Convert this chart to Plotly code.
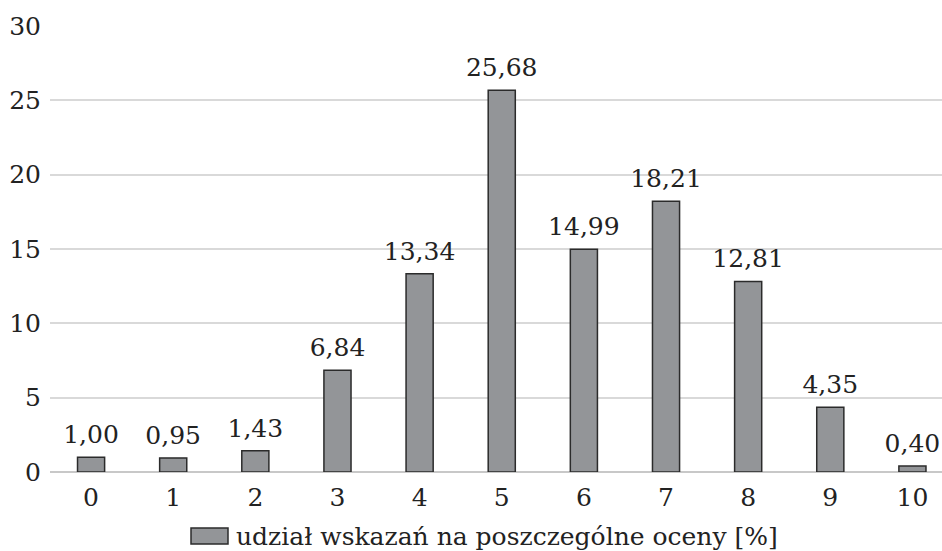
import plotly.graph_objects as go

categories = [0, 1, 2, 3, 4, 5, 6, 7, 8, 9, 10]
values = [1.00, 0.95, 1.43, 6.84, 13.34, 25.68, 14.99, 18.21, 12.81, 4.35, 0.40]
series_name = "udział wskazań na poszczególne oceny [%]"
y_ticks = [0, 5, 10, 15, 20, 25, 30]

labels = [f"{v:.2f}".replace(".", ",") for v in values]

FONT = "DejaVu Serif"
FS = 25
TXT = "#222222"

fig = go.Figure()
fig.add_trace(go.Bar(
    x=categories, y=values, width=0.33,
    marker=dict(color="#939598", line=dict(color="#2b2b2b", width=1.5)),
    name=series_name, showlegend=False, hoverinfo="skip",
))
fig.add_trace(go.Scatter(
    x=categories, y=values, mode="markers+text",
    marker=dict(size=11, color="rgba(0,0,0,0)"),
    text=labels, textposition="top center", cliponaxis=False,
    textfont=dict(family=FONT, size=FS, color=TXT),
    showlegend=False, hoverinfo="skip",
))

W, H = 942, 551
L, R, T, B = 50, 0, 26, 79
pw, ph = W - L - R, H - T - B

def px(x):
    return (x - L) / pw

def py(y):
    return (H - B - y) / ph

fig.add_shape(type="rect", xref="paper", yref="paper",
              x0=px(191), x1=px(228), y0=py(544), y1=py(528),
              fillcolor="#939598", line=dict(color="#2b2b2b", width=1.5))
fig.add_annotation(xref="paper", yref="paper", x=px(234), y=py(536),
                   xanchor="left", yanchor="middle", showarrow=False,
                   text=series_name, font=dict(family=FONT, size=FS, color=TXT))

fig.update_layout(
    width=W, height=H,
    margin=dict(l=L, r=R, t=T, b=B, pad=0),
    plot_bgcolor="white", paper_bgcolor="white",
    font=dict(family=FONT, size=FS, color=TXT),
    xaxis=dict(range=[-0.5, 10.36], tickvals=categories, ticktext=[str(c) for c in categories],
               showgrid=False, zeroline=False, showline=False, ticks="",
               ticklabelstandoff=8, fixedrange=True),
    yaxis=dict(range=[0, 30], tickvals=y_ticks, showgrid=True, gridcolor="#d9d9d9",
               gridwidth=1.5, zeroline=True, zerolinecolor="#c8c8c8", zerolinewidth=1.5,
               showline=False, ticks="", ticklabelstandoff=8, fixedrange=True),
    bargap=0.67,
)

fig.write_html("out.html", config={"displayModeBar": False},
               post_script="document.body.style.margin='0';document.body.style.overflow='hidden';")
